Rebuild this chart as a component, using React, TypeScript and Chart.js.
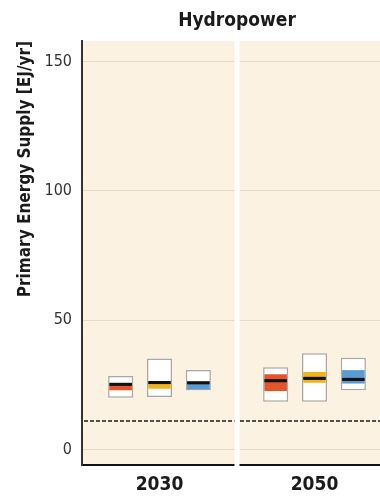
import React, { useEffect, useRef } from "react";
import { Chart, registerables } from "chart.js";

Chart.register(...registerables);

// Time slices shown on the x axis
const YEARS = ["2030", "2050"];

// Scenario groups: baseline, 440-600 ppm (Cat. III+IV), <440 ppm (Cat. I+II)
// Values in EJ/yr, one entry per year.
const BASELINE_MIN = [20.0, 18.5];
const BASELINE_Q1 = [22.9, 22.6];
const BASELINE_MEDIAN = [25.2, 26.6];
const BASELINE_Q3 = [25.6, 29.1];
const BASELINE_MAX = [28.4, 31.8];

const CAT34_MIN = [20.3, 18.5];
const CAT34_Q1 = [23.5, 25.8];
const CAT34_MEDIAN = [25.9, 27.5];
const CAT34_Q3 = [26.2, 30.0];
const CAT34_MAX = [35.2, 37.2];

const CAT12_MIN = [22.9, 22.9];
const CAT12_Q1 = [23.3, 25.5];
const CAT12_MEDIAN = [25.8, 27.1];
const CAT12_Q3 = [26.2, 30.7];
const CAT12_MAX = [30.7, 35.5];

// 2008 hydropower primary energy supply (dashed reference line)
const SUPPLY_2008 = 11.0;

const Y_TICKS = [0, 50, 100, 150];

const TITLE = "Hydropower";
const FONT = "'Liberation Sans Narrow', 'DejaVu Sans Condensed', 'Open Sans', sans-serif";
const PANEL_BG = "#FCF2E2";
const GRID = "#E8DAC3";

const groups = [
  { key: "baseline", color: "#E2562B", min: BASELINE_MIN, q1: BASELINE_Q1, med: BASELINE_MEDIAN, q3: BASELINE_Q3, max: BASELINE_MAX },
  { key: "cat34", color: "#F2B31B", min: CAT34_MIN, q1: CAT34_Q1, med: CAT34_MEDIAN, q3: CAT34_Q3, max: CAT34_MAX },
  { key: "cat12", color: "#5B9BD3", min: CAT12_MIN, q1: CAT12_Q1, med: CAT12_MEDIAN, q3: CAT12_Q3, max: CAT12_MAX },
];

const MEDIAN_HALF = 0.6;
const BOX_BAR_PCT = 0.645;
const INNER_BAR_PCT = 0.58;
const CAT_PCT = 0.752;

const panelPlugin = {
  id: "panelDecor",
  beforeDraw(chart: any) {
    const { ctx, chartArea } = chart;
    ctx.save();
    ctx.fillStyle = PANEL_BG;
    ctx.fillRect(chartArea.left, chartArea.top, chartArea.right - chartArea.left, chartArea.bottom - chartArea.top);
    ctx.restore();
  },
  beforeDatasetsDraw(chart: any) {
    const { ctx, chartArea, scales } = chart;
    const y = scales.y.getPixelForValue(SUPPLY_2008);
    ctx.save();
    ctx.strokeStyle = "#1a1a1a";
    ctx.lineWidth = 1.5;
    ctx.setLineDash([4, 2]);
    ctx.beginPath();
    ctx.moveTo(chartArea.left + 2, y);
    ctx.lineTo(chartArea.right, y);
    ctx.stroke();
    ctx.restore();
  },
  afterDraw(chart: any) {
    const { ctx, chartArea, scales } = chart;
    // white gap between the two year panels
    const xs = scales.x;
    const sep = (xs.getPixelForValue(0) + xs.getPixelForValue(1)) / 2;
    ctx.save();
    ctx.fillStyle = "#ffffff";
    ctx.fillRect(sep - 2.5, chartArea.top, 5, chartArea.bottom - chartArea.top + 2);
    // panel title, centred over the plot area
    ctx.fillStyle = "#1a1a1a";
    ctx.font = `bold 19px ${FONT}`;
    ctx.textAlign = "center";
    ctx.textBaseline = "middle";
    ctx.fillText(TITLE, (chartArea.left + chartArea.right) / 2, 21);
    ctx.restore();
  },
};

export default function App() {
  const ref = useRef<HTMLCanvasElement | null>(null);

  useEffect(() => {
    if (!ref.current) return;
    const datasets: any[] = [];
    groups.forEach((g) => {
      datasets.push({
        label: g.key + " median",
        stack: g.key,
        order: 1,
        data: YEARS.map((_, i) => [g.med[i] - MEDIAN_HALF, g.med[i] + MEDIAN_HALF]),
        backgroundColor: "#111111",
        borderWidth: 0,
        barPercentage: INNER_BAR_PCT,
        categoryPercentage: CAT_PCT,
      });
    });
    groups.forEach((g) => {
      datasets.push({
        label: g.key + " interquartile",
        stack: g.key,
        order: 2,
        data: YEARS.map((_, i) => [g.q1[i], g.q3[i]]),
        backgroundColor: g.color,
        borderWidth: 0,
        barPercentage: INNER_BAR_PCT,
        categoryPercentage: CAT_PCT,
      });
    });
    groups.forEach((g) => {
      datasets.push({
        label: g.key + " range",
        stack: g.key,
        order: 3,
        data: YEARS.map((_, i) => [g.min[i], g.max[i]]),
        backgroundColor: "#ffffff",
        borderColor: "rgba(160,160,160,0.9)",
        borderWidth: 1.5,
        borderSkipped: false,
        barPercentage: BOX_BAR_PCT,
        categoryPercentage: CAT_PCT,
      });
    });

    const chart = new Chart(ref.current, {
      type: "bar",
      data: { labels: YEARS, datasets },
      plugins: [panelPlugin],
      options: {
        animation: false,
        responsive: false,
        maintainAspectRatio: false,
        layout: { padding: { top: 41, left: 0, right: 0, bottom: 0 } },
        plugins: {
          legend: { display: false },
          tooltip: { enabled: false },
          title: { display: false },
        },
        scales: {
          x: {
            type: "category",
            stacked: true,
            grid: { display: false, drawTicks: false },
            border: { display: true, color: "#111111", width: 2 },
            ticks: {
              color: "#1a1a1a",
              padding: 9,
              font: { family: FONT, size: 19, weight: "bold" },
            },
            afterFit: (s: any) => {
              s.height = 34;
            },
          },
          y: {
            type: "linear",
            stacked: false,
            min: -6,
            max: 158,
            grid: { color: GRID, lineWidth: 1, drawTicks: false },
            border: { display: true, color: "#333333", width: 2 },
            afterBuildTicks: (s: any) => {
              s.ticks = Y_TICKS.map((v) => ({ value: v }));
            },
            ticks: {
              color: "#333333",
              padding: 10,
              font: { family: FONT, size: 16 },
            },
            title: {
              display: true,
              text: "Primary Energy Supply [EJ/yr]",
              align: "end",
              color: "#1a1a1a",
              font: { family: FONT, size: 17, weight: "bold", lineHeight: 1.2 },
              padding: { top: 15, bottom: 0 },
            },
            afterFit: (s: any) => {
              s.width = 82;
            },
          },
        },
      } as any,
    });
    return () => chart.destroy();
  }, []);

  return (
    <div style={{ position: "absolute", left: 0, top: 0, width: 380, height: 499, overflow: "hidden", background: "#ffffff" }}>
      <canvas ref={ref} width={392} height={499} style={{ width: 392, height: 499, display: "block" }} />
    </div>
  );
}
